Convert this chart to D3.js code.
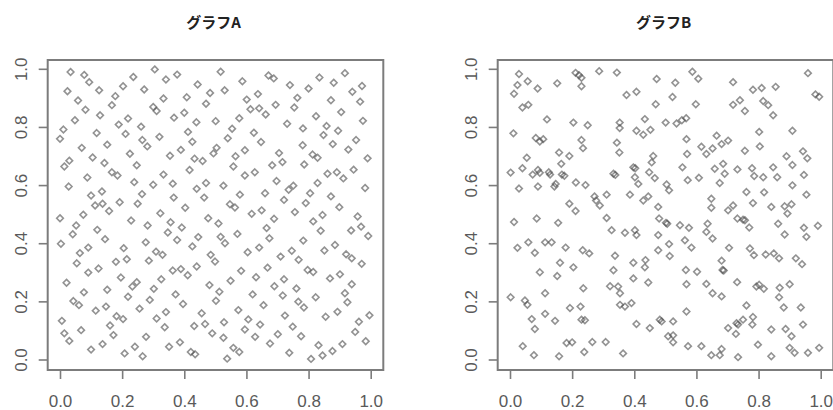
<!DOCTYPE html>
<html><head><meta charset="utf-8">
<script src="https://cdn.jsdelivr.net/npm/d3@7"></script>
<style>body{margin:0;background:#fff}</style>
</head><body>
<svg id="c" width="833" height="410"></svg>
<script>
const titles = ["グラフA", "グラフB"];
const tickValues = [0, 0.2, 0.4, 0.6, 0.8, 1.0];

const graphAX = [
0.034,0.078,0.094,0.024,0.126,0.058,0.082,0.048,0.011,0.000,
0.118,0.152,0.070,0.105,0.143,0.167,0.185,0.088,0.028,0.100,
0.135,0.239,0.264,0.300,0.333,0.363,0.417,0.433,0.426,0.412,
0.439,0.400,0.367,0.333,0.300,0.311,0.341,0.377,0.305,0.236,
0.203,0.178,0.167,0.129,0.189,0.219,0.261,0.211,0.265,0.281,
0.320,0.354,0.389,0.225,0.247,0.408,0.271,0.443,0.030,0.014,
0.517,0.530,0.587,0.483,0.470,0.601,0.637,0.613,0.641,0.662,
0.671,0.688,0.740,0.764,0.754,0.694,0.800,0.835,0.881,0.917,
0.941,0.972,0.966,0.872,0.905,0.824,0.858,0.895,0.848,0.878,
0.928,0.953,0.975,0.990,0.945,0.912,0.891,0.861,0.829,0.782,
0.781,0.731,0.813,0.829,0.786,0.705,0.716,0.683,0.647,0.624,
0.554,0.577,0.501,0.540,0.504,0.494,0.565,0.595,0.558,0.459,
0.595,0.627,0.697,0.736,0.751,0.872,0.982,0.579,0.660,0.526,
0.470,0.440,0.464,0.805,
0.000,0.003,0.041,0.052,0.075,0.113,0.137,0.158,0.120,0.145,
0.192,0.229,0.250,0.282,0.323,0.356,0.366,0.403,0.392,0.347,
0.377,0.426,0.445,0.064,0.091,0.054,0.091,0.124,0.205,0.215,
0.180,0.276,0.286,0.309,0.330,0.196,0.021,0.077,0.043,0.061,
0.152,0.219,0.233,0.247,0.302,0.326,0.289,0.256,0.363,0.389,
0.411,0.440,0.372,0.396,0.006,0.014,0.030,0.068,0.115,0.148,
0.182,0.203,0.161,0.172,0.311,0.341,0.337,0.277,0.432,0.100,
0.137,0.208,0.241,0.266,0.351,0.386,0.421,0.435,
0.721,0.791,0.899,0.547,0.563,0.617,0.649,0.689,0.756,0.815,
0.845,0.839,0.958,0.969,0.937,0.992,0.477,0.510,0.517,0.531,
0.571,0.665,0.674,0.485,0.499,0.604,0.641,0.710,0.746,0.768,
0.783,0.851,0.885,0.921,0.939,0.971,0.583,0.668,0.549,0.631,
0.721,0.690,0.761,0.797,0.815,0.869,0.901,0.939,0.481,0.513,
0.502,0.620,0.717,0.767,0.785,0.823,0.917,0.925,0.655,0.574,
0.456,0.724,0.855,0.893,0.996,0.962,0.467,0.528,0.606,0.644,
0.595,0.490,0.526,0.628,0.701,0.749,0.776,0.950,0.984,0.676,
0.832,0.909,0.877,0.845,0.558,0.577,0.738,0.538,0.808
];
const graphAY = [
0.989,0.979,0.954,0.923,0.926,0.891,0.859,0.823,0.791,0.759,
0.779,0.739,0.728,0.695,0.676,0.644,0.633,0.626,0.595,0.564,
0.578,0.610,0.569,0.601,0.636,0.605,0.652,0.691,0.749,0.783,
0.816,0.849,0.832,0.898,0.869,0.855,0.963,0.980,0.998,0.972,
0.940,0.906,0.875,0.840,0.808,0.829,0.801,0.776,0.755,0.733,
0.766,0.701,0.721,0.708,0.668,0.902,0.929,0.946,0.684,0.664,
0.990,0.926,0.957,0.917,0.880,0.894,0.913,0.861,0.864,0.843,
0.977,0.967,0.944,0.900,0.867,0.876,0.932,0.970,0.952,0.985,
0.921,0.941,0.887,0.892,0.851,0.837,0.803,0.787,0.772,0.741,
0.722,0.755,0.821,0.692,0.653,0.623,0.644,0.639,0.607,0.795,
0.737,0.811,0.705,0.694,0.671,0.710,0.679,0.668,0.748,0.780,
0.794,0.830,0.820,0.761,0.728,0.709,0.699,0.720,0.664,0.683,
0.633,0.644,0.614,0.584,0.598,0.561,0.590,0.567,0.572,0.598,
0.607,0.587,0.557,0.572,
0.486,0.398,0.431,0.461,0.498,0.530,0.536,0.511,0.446,0.414,
0.541,0.478,0.536,0.461,0.503,0.472,0.557,0.522,0.454,0.437,
0.411,0.389,0.421,0.366,0.385,0.331,0.299,0.313,0.383,0.345,
0.336,0.403,0.340,0.371,0.360,0.282,0.264,0.231,0.201,0.187,
0.240,0.216,0.251,0.266,0.243,0.276,0.205,0.175,0.306,0.311,
0.290,0.320,0.224,0.191,0.133,0.090,0.064,0.101,0.168,0.182,
0.149,0.139,0.117,0.084,0.141,0.163,0.111,0.078,0.115,0.034,
0.053,0.021,0.044,0.011,0.044,0.059,0.026,0.018,
0.549,0.538,0.524,0.534,0.523,0.501,0.513,0.484,0.507,0.475,
0.497,0.443,0.492,0.457,0.444,0.425,0.486,0.468,0.422,0.400,
0.432,0.452,0.417,0.360,0.337,0.369,0.385,0.354,0.374,0.343,
0.409,0.375,0.394,0.362,0.348,0.329,0.305,0.316,0.271,0.283,
0.276,0.252,0.244,0.308,0.301,0.279,0.293,0.259,0.256,0.233,
0.202,0.224,0.220,0.199,0.179,0.214,0.228,0.197,0.187,0.170,
0.159,0.151,0.147,0.164,0.152,0.130,0.122,0.128,0.138,0.120,
0.103,0.090,0.075,0.078,0.087,0.113,0.080,0.095,0.063,0.055,
0.049,0.053,0.029,0.014,0.040,0.026,0.023,0.003,0.002
];

const graphBX = [
0.029,0.024,0.057,0.013,0.089,0.152,0.211,0.222,0.230,0.230,
0.287,0.344,0.375,0.040,0.059,0.119,0.204,0.250,0.353,0.353,
0.011,0.083,0.096,0.107,0.230,0.235,0.344,0.352,0.158,0.191,
0.054,0.165,0.002,0.040,0.073,0.090,0.096,0.125,0.129,0.167,
0.175,0.212,0.243,0.029,0.090,0.143,0.147,0.333,0.339,0.272,
0.311,
0.472,0.532,0.587,0.606,0.407,0.523,0.469,0.598,0.718,0.782,
0.810,0.855,0.959,0.983,0.995,0.718,0.740,0.756,0.815,0.831,
0.847,0.434,0.501,0.536,0.553,0.567,0.407,0.429,0.452,0.568,
0.665,0.681,0.702,0.802,0.909,0.570,0.616,0.632,0.652,0.756,
0.804,0.461,0.456,0.397,0.403,0.448,0.466,0.402,0.413,0.555,
0.572,0.608,0.659,0.686,0.691,0.732,0.779,0.786,0.815,0.847,
0.860,0.890,0.909,0.943,0.957,0.946,0.675,0.761,0.818,0.909,
0.954,0.504,0.512,0.386,
0.277,0.289,0.191,0.211,0.013,0.086,0.155,0.311,0.327,0.370,
0.024,0.059,0.080,0.113,0.134,0.179,0.234,0.255,0.338,0.161,
0.204,0.096,0.152,0.333,0.322,0.348,0.354,0.236,0.113,0.002,
0.048,0.056,0.193,0.227,0.354,0.370,0.070,0.113,0.145,0.230,
0.241,0.080,0.041,0.077,0.158,0.182,0.200,0.265,0.308,0.239,
0.364,
0.429,0.445,0.477,0.480,0.502,0.506,0.547,0.576,0.636,0.632,
0.648,0.648,0.702,0.718,0.732,0.750,0.756,0.770,0.782,0.841,
0.884,0.906,0.893,0.863,0.884,0.946,0.954,0.991,0.402,0.407,
0.477,0.512,0.563,0.584,0.652,0.705,0.772,0.785,0.823,0.849,
0.866,0.920,0.940,0.397,0.436,0.434,0.477,0.514,0.566,0.602,
0.681,0.684,0.688,0.397,0.445,0.568,0.632,0.652,0.681,0.731,
0.793,0.802,0.817,0.868,0.900,0.391,0.761,0.782,0.866,0.881,
0.936,0.482,0.488,0.525,0.568,0.407,0.450,0.509,0.525,0.525,
0.573,0.616,0.681,0.729,0.734,0.750,0.702,0.727,0.780,0.841,
0.887,0.906,0.943,0.798,0.900,0.916,0.959,0.995,0.648,0.675,
0.734,0.841
];
const graphBY = [
0.982,0.944,0.957,0.914,0.932,0.950,0.986,0.978,0.969,0.940,
0.992,0.987,0.910,0.867,0.876,0.826,0.815,0.806,0.815,0.796,
0.778,0.762,0.750,0.758,0.755,0.727,0.746,0.712,0.712,0.700,
0.694,0.673,0.643,0.658,0.636,0.652,0.642,0.644,0.636,0.636,
0.632,0.609,0.600,0.588,0.595,0.595,0.604,0.639,0.635,0.561,
0.567,
0.965,0.952,0.990,0.966,0.921,0.903,0.878,0.878,0.954,0.928,
0.934,0.938,0.985,0.912,0.904,0.876,0.892,0.855,0.889,0.875,
0.840,0.827,0.815,0.812,0.823,0.830,0.787,0.773,0.790,0.758,
0.770,0.741,0.753,0.783,0.787,0.707,0.732,0.707,0.726,0.718,
0.733,0.700,0.678,0.661,0.658,0.644,0.624,0.627,0.604,0.661,
0.617,0.625,0.656,0.673,0.639,0.654,0.658,0.631,0.627,0.661,
0.627,0.699,0.669,0.716,0.692,0.635,0.607,0.576,0.575,0.599,
0.567,0.602,0.582,0.567,
0.547,0.530,0.536,0.511,0.473,0.485,0.470,0.487,0.445,0.436,
0.384,0.403,0.367,0.403,0.403,0.385,0.376,0.365,0.357,0.333,
0.317,0.300,0.287,0.307,0.252,0.251,0.228,0.245,0.228,0.214,
0.203,0.188,0.177,0.182,0.188,0.182,0.139,0.157,0.133,0.137,
0.135,0.105,0.046,0.015,0.011,0.057,0.059,0.060,0.060,0.026,
0.021,
0.547,0.561,0.525,0.485,0.470,0.467,0.462,0.453,0.467,0.439,
0.553,0.522,0.513,0.530,0.485,0.481,0.479,0.454,0.538,0.525,
0.527,0.534,0.502,0.467,0.430,0.453,0.422,0.460,0.445,0.428,
0.428,0.397,0.410,0.385,0.416,0.384,0.382,0.359,0.361,0.365,
0.348,0.348,0.328,0.333,0.342,0.317,0.376,0.356,0.308,0.302,
0.340,0.308,0.306,0.279,0.265,0.259,0.260,0.228,0.217,0.266,
0.251,0.257,0.243,0.247,0.259,0.194,0.186,0.146,0.214,0.179,
0.179,0.137,0.131,0.131,0.165,0.122,0.108,0.080,0.083,0.059,
0.046,0.046,0.036,0.125,0.120,0.137,0.108,0.088,0.120,0.103,
0.105,0.080,0.120,0.051,0.040,0.023,0.023,0.040,0.015,0.015,
0.008,0.011
];

const svg = d3.select("#c");
const boxW = 335.6, boxTop = 60, boxBottom = 370;
const gray = "#7c7c7c";
const diamond = {
  draw(ctx, size) {
    const r = Math.sqrt(size / 2);
    ctx.moveTo(0, -r); ctx.lineTo(r, 0); ctx.lineTo(0, r); ctx.lineTo(-r, 0); ctx.closePath();
  }
};
const sym = d3.symbol().type(diamond).size(22);

const panels = [
  {title: titles[0], xs: graphAX, ys: graphAY, left: 47.7},
  {title: titles[1], xs: graphBX, ys: graphBY, left: 497.7}
];

panels.forEach(p => {
  const x = d3.scaleLinear().domain([0, 1]).range([p.left + 12.3, p.left + 12.3 + 310.7]);
  const y = d3.scaleLinear().domain([0, 1]).range([359.5, 68.8]);
  const g = svg.append("g");

  const pts = p.xs.map((v, i) => [v, p.ys[i]]);
  g.append("g").selectAll("path").data(pts).join("path")
    .attr("d", sym)
    .attr("transform", d => `translate(${x(d[0])},${y(d[1])})`)
    .attr("fill", "none")
    .attr("stroke", "#4a4a4a")
    .attr("stroke-opacity", 0.6)
    .attr("stroke-width", 1.6);

  g.append("rect")
    .attr("x", p.left).attr("y", boxTop)
    .attr("width", boxW).attr("height", boxBottom - boxTop)
    .attr("fill", "none").attr("stroke", gray).attr("stroke-width", 2);

  const xa = g.append("g").attr("transform", `translate(0,${boxBottom})`)
    .call(d3.axisBottom(x).tickValues(tickValues).tickFormat(d3.format(".1f")).tickSize(9).tickPadding(16));
  xa.select(".domain").remove();
  xa.selectAll("line").attr("stroke", gray).attr("stroke-width", 1.6);
  xa.selectAll("text").attr("font-family", "Liberation Sans, Arial, sans-serif")
    .attr("font-size", 17).attr("fill", "#5a5a5a");

  const ya = g.append("g").attr("transform", `translate(${p.left},0)`)
    .call(d3.axisLeft(y).tickValues(tickValues).tickFormat(d3.format(".1f")).tickSize(9));
  ya.select(".domain").remove();
  ya.selectAll("line").attr("stroke", gray).attr("stroke-width", 1.6);
  ya.selectAll("text")
    .attr("x", null).attr("dy", null)
    .attr("transform", "translate(-20.7,0) rotate(-90)")
    .attr("text-anchor", "middle")
    .attr("font-family", "Liberation Sans, Arial, sans-serif")
    .attr("font-size", 17).attr("fill", "#5a5a5a");

  g.append("text")
    .attr("x", p.left + boxW / 2 - 2).attr("y", 28)
    .attr("text-anchor", "middle")
    .attr("font-family", "Noto Sans CJK JP, sans-serif")
    .attr("font-weight", "bold").attr("font-size", 15)
    .attr("fill", "#222")
    .text(p.title);
});
</script>
</body></html>
